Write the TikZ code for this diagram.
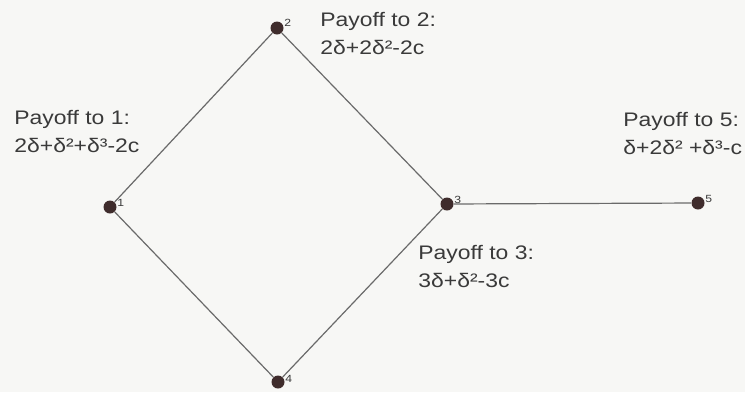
\documentclass[tikz,border=0pt]{standalone}
\usepackage{fontspec}
\setmainfont[FakeStretch=1.17]{Liberation Sans}
\definecolor{bgc}{HTML}{F7F7F5}
\definecolor{dotc}{HTML}{3F2C2C}
\definecolor{linec}{HTML}{6A6A6A}
\definecolor{txtc}{HTML}{3A3A3A}
\begin{document}
\begin{tikzpicture}[x=0.5pt,y=-0.5pt,
  dot/.style={circle,fill=dotc,inner sep=0,minimum size=6.5pt},
  edge/.style={draw=linec,line width=0.6pt},
  payoff/.style={anchor=north west,inner sep=0,align=left,text=txtc,font=\fontsize{9.8}{14}\selectfont},
  numlab/.style={anchor=west,inner sep=0,text=txtc,font=\fontsize{5.2}{6}\selectfont}]
\fill[bgc] (0,0) rectangle (745,392);
\useasboundingbox (0,0) rectangle (745,392);
% dots
\node[dot] (n1) at (110,207) {};
\node[dot] (n2) at (277,28) {};
\node[dot] (n3) at (447,204) {};
\node[dot] (n4) at (278,382) {};
\node[dot] (n5) at (698,203) {};
% edges
\draw[edge] (n1) -- (n2);
\draw[edge] (n2) -- (n3);
\draw[edge] (n3) -- (n4);
\draw[edge] (n4) -- (n1);
\draw[edge] (n3) -- (n5);
% number labels
\node[numlab] (l1) at (117,203) {1};
\node[numlab] (l2) at (284,23) {2};
\node[numlab] (l3) at (454,200) {3};
\node[numlab] (l4) at (285,379) {4};
\node[numlab] (l5) at (705,199) {5};
% payoff labels
\node[payoff] (p1) at (14,110) {Payoff to 1:\\2δ+δ²+δ³-2c};
\node[payoff] (p2) at (320,12) {Payoff to 2:\\2δ+2δ²-2c};
\node[payoff] (p3) at (418,245) {Payoff to 3:\\3δ+δ²-3c};
\node[payoff] (p5) at (623,112) {Payoff to 5:\\δ+2δ² +δ³-c};
\end{tikzpicture}
\end{document}
